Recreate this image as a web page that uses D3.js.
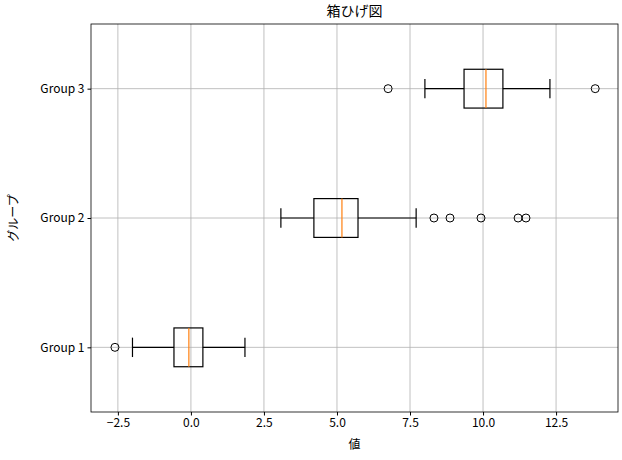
<!DOCTYPE html>
<html><head><meta charset="utf-8">
<script src="https://cdn.jsdelivr.net/npm/d3@7"></script>
<style>body{margin:0;background:#fff}text{font-family:"Noto Sans CJK JP","DejaVu Sans",sans-serif}</style>
</head><body><div id="chart"></div>
<script>
// box statistics
const groups = ["Group 1", "Group 2", "Group 3"];
const whiskerLo = [-2.0, 3.08, 8.01];
const q1 = [-0.58, 4.21, 9.35];
const median = [-0.07, 5.17, 10.1];
const q3 = [0.41, 5.72, 10.68];
const whiskerHi = [1.85, 7.71, 12.29];
const outliers = [[-2.6], [8.32, 8.87, 9.93, 11.2, 11.47], [6.75, 13.84]];
const xTicks = [-2.5, 0, 2.5, 5, 7.5, 10, 12.5];

const width = 622, height = 460;
const margin = {top: 24, right: 4, bottom: 48, left: 91};

const svg = d3.select("#chart").append("svg")
  .attr("width", width).attr("height", height);

const x = d3.scaleLinear().domain([-3.42, 14.62]).range([margin.left, width - margin.right]);
const y = d3.scaleLinear().domain([0.5, 3.5]).range([height - margin.bottom, margin.top]);
const boxH = y(0.85) - y(1.15);

// grid
svg.append("g").selectAll("line").data(xTicks).join("line")
  .attr("x1", d => x(d)).attr("x2", d => x(d))
  .attr("y1", margin.top).attr("y2", height - margin.bottom)
  .attr("stroke", "#b0b0b0").attr("stroke-width", 0.8);
svg.append("g").selectAll("line").data(groups).join("line")
  .attr("y1", (d, i) => y(i + 1)).attr("y2", (d, i) => y(i + 1))
  .attr("x1", margin.left).attr("x2", width - margin.right)
  .attr("stroke", "#b0b0b0").attr("stroke-width", 0.8);

const g = svg.append("g").selectAll("g").data(groups).join("g");
g.each(function(d, i) {
  const s = d3.select(this), cy = y(i + 1);
  const line = (x1, x2, y1, y2, c = "black") => s.append("line")
    .attr("x1", x1).attr("x2", x2).attr("y1", y1).attr("y2", y2)
    .attr("stroke", c).attr("stroke-width", 1.2);
  line(x(whiskerLo[i]), x(q1[i]), cy, cy);
  line(x(q3[i]), x(whiskerHi[i]), cy, cy);
  line(x(whiskerLo[i]), x(whiskerLo[i]), cy - boxH / 4, cy + boxH / 4);
  line(x(whiskerHi[i]), x(whiskerHi[i]), cy - boxH / 4, cy + boxH / 4);
  s.append("rect").attr("x", x(q1[i])).attr("y", cy - boxH / 2)
    .attr("width", x(q3[i]) - x(q1[i])).attr("height", boxH)
    .attr("fill", "none").attr("stroke", "black").attr("stroke-width", 1.2);
  line(x(median[i]), x(median[i]), cy - boxH / 2, cy + boxH / 2, "#ff7f0e");
  s.selectAll("circle").data(outliers[i]).join("circle")
    .attr("cx", v => x(v)).attr("cy", cy).attr("r", 4)
    .attr("fill", "none").attr("stroke", "black").attr("stroke-width", 1);
});

// axes
svg.append("g").attr("transform", `translate(0,${height - margin.bottom})`)
  .call(d3.axisBottom(x).tickValues(xTicks).tickSize(3.5).tickFormat(d => d3.format(".1f")(d).replace("-", "−")))
  .call(a => a.select(".domain").remove())
  .selectAll("text").attr("font-size", 12).attr("fill", "black");
svg.append("g").attr("transform", `translate(${margin.left},0)`)
  .call(d3.axisLeft(y).tickValues([1, 2, 3]).tickSize(3.5).tickFormat(d => groups[d - 1]))
  .call(a => a.select(".domain").remove())
  .selectAll("text").attr("font-size", 12).attr("fill", "black");
svg.append("rect").attr("x", margin.left).attr("y", margin.top)
  .attr("width", width - margin.left - margin.right).attr("height", height - margin.top - margin.bottom)
  .attr("fill", "none").attr("stroke", "black").attr("stroke-width", 0.8);

svg.append("text").attr("x", (margin.left + width - margin.right) / 2).attr("y", 16)
  .attr("text-anchor", "middle").attr("font-size", 14).text("箱ひげ図");
svg.append("text").attr("x", (margin.left + width - margin.right) / 2).attr("y", 449)
  .attr("text-anchor", "middle").attr("font-size", 12).text("値");
svg.append("text").attr("transform", `translate(18,${(margin.top + height - margin.bottom) / 2}) rotate(-90)`)
  .attr("text-anchor", "middle").attr("font-size", 12).text("グループ");
</script></body></html>
